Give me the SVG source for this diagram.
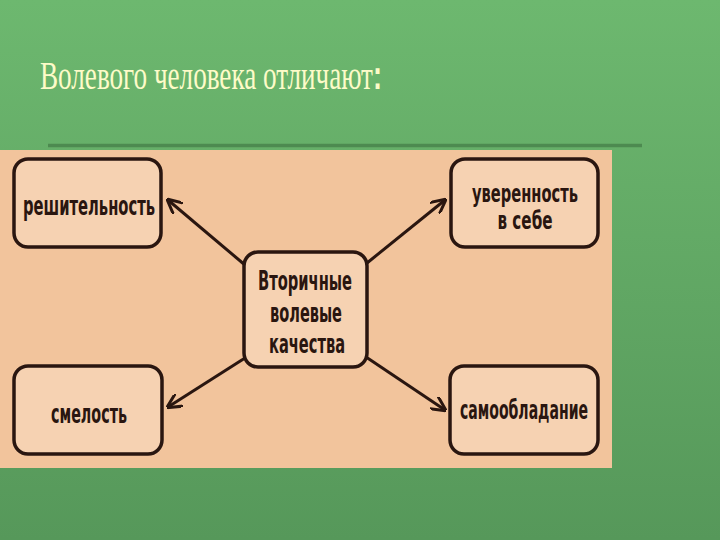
<svg xmlns="http://www.w3.org/2000/svg" width="720" height="540" viewBox="0 0 720 540">
<defs>
<linearGradient id="bg" x1="0" y1="0" x2="0" y2="1">
<stop offset="0" stop-color="#6db86f"/>
<stop offset="1" stop-color="#56985a"/>
</linearGradient>
<marker id="ah" viewBox="0 0 10 10" refX="9" refY="5" markerWidth="5" markerHeight="5" orient="auto" markerUnits="strokeWidth">
<path d="M0,0 L10,5 L0,10" fill="none" stroke="#2a1610" stroke-width="2"/>
</marker>
<style>
.box{fill:#f6d2b2;stroke:#2a1610;stroke-width:3.5}
.lbl{font-family:"DejaVu Sans",sans-serif;font-stretch:condensed;font-weight:bold;font-size:27px;fill:#2a1610;text-anchor:middle}
.sm{font-size:24px}
.con{stroke:#2a1610;stroke-width:3;fill:none;marker-end:url(#ah)}
</style>
</defs>
<rect width="720" height="540" fill="url(#bg)"/>
<text x="40" y="89" font-family="Liberation Serif, serif" font-size="40" fill="#fdfbc8" textLength="342" lengthAdjust="spacingAndGlyphs">Волевого человека отличают<tspan font-family="Liberation Sans, sans-serif" font-weight="bold">:</tspan></text>
<line x1="48" y1="145.5" x2="642" y2="145.5" stroke="#4d8a50" stroke-width="3.5"/>
<rect x="0" y="150" width="612" height="318" fill="#f2c49c"/>
<g id="connectors">
<line class="con" x1="245" y1="265" x2="168" y2="200"/>
<line class="con" x1="367" y1="263" x2="445" y2="200"/>
<line class="con" x1="245" y1="358" x2="168" y2="407"/>
<line class="con" x1="366" y1="357" x2="445" y2="410"/>
</g>
<g id="center">
<rect class="box" x="244" y="252" width="123" height="115" rx="14"/>
<text class="lbl" x="305" y="290" textLength="94" lengthAdjust="spacingAndGlyphs">Вторичные</text>
<text class="lbl" x="306" y="322" textLength="72" lengthAdjust="spacingAndGlyphs">волевые</text>
<text class="lbl" x="307" y="353" textLength="76" lengthAdjust="spacingAndGlyphs">качества</text>
</g>
<g id="reshitelnost">
<rect class="box" x="14" y="159" width="147" height="88" rx="14"/>
<text class="lbl" x="89" y="215" textLength="132" lengthAdjust="spacingAndGlyphs">решительность</text>
</g>
<g id="uverennost">
<rect class="box" x="451" y="159" width="147" height="88" rx="14"/>
<text class="lbl sm" x="525" y="202" textLength="106" lengthAdjust="spacingAndGlyphs">уверенность</text>
<text class="lbl sm" x="525" y="229" textLength="55" lengthAdjust="spacingAndGlyphs">в себе</text>
</g>
<g id="smelost">
<rect class="box" x="14" y="366" width="148" height="88" rx="14"/>
<text class="lbl" x="89" y="423" textLength="76" lengthAdjust="spacingAndGlyphs">смелость</text>
</g>
<g id="samoobladanie">
<rect class="box" x="450" y="366" width="148" height="88" rx="14"/>
<text class="lbl" x="524" y="419" textLength="128" lengthAdjust="spacingAndGlyphs">самообладание</text>
</g>
</svg>
